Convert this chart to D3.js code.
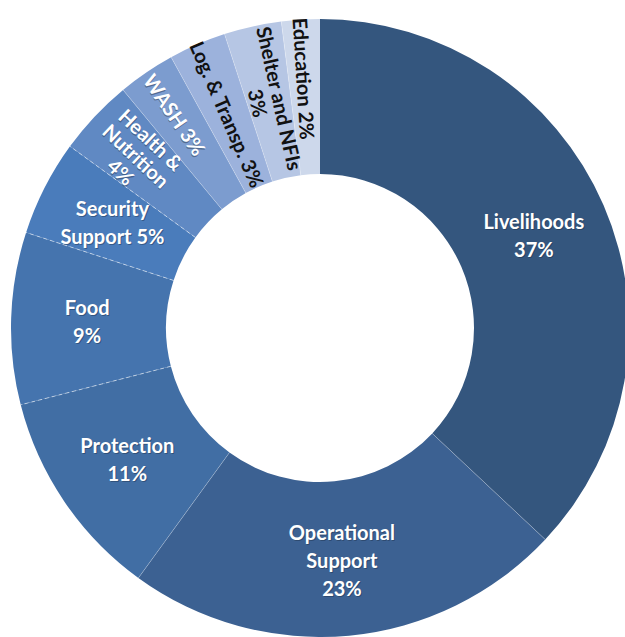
<!DOCTYPE html>
<html>
<head>
<style>
  body {
    margin: 0;
    background-color: #ffffff;
  }

  .label {
    font-family: Lato, "Open Sans", sans-serif;
    font-weight: bold;
    font-size: 20px;
  }
</style>
  <script src="https://d3js.org/d3.v7.min.js"></script>
</head>
<body>
<script>
// donut of budget share by sector
const sectors = ['Livelihoods', 'Operational Support', 'Protection', 'Food', 'Security Support',
  'Health & Nutrition', 'WASH', 'Log. & Transp.', 'Shelter and NFIs', 'Education'];
const shares = [37, 23, 11, 9, 5, 4, 3, 3, 3, 2];
const colors = ['#34567e', '#3c6192', '#416ea4', '#4574ae', '#4a7cbb',
  '#6089c3', '#7c9ccf', '#9cb2dc', '#b6c6e4', '#cdd8eb'];

// label lines as they wrap in the picture
const labelLines = [
  ['Livelihoods', '37%'],
  ['Operational', 'Support', '23%'],
  ['Protection', '11%'],
  ['Food', '9%'],
  ['Security', 'Support 5%'],
  ['Health &', 'Nutrition', '4%'],
  ['WASH 3%'],
  ['Log. & Transp. 3%'],
  ['Shelter and NFIs', '3%'],
  ['Education 2%'],
];

const width = 625;
const height = 637;
const cx = 320;
const cy = 328;
const outerR = 309;
const innerR = 154;

// small slices get radial text, pushed outward a bit for some
const rotated = new Set(['Health & Nutrition', 'WASH', 'Log. & Transp.', 'Shelter and NFIs', 'Education']);
const labelR = {
  'Health & Nutrition': 252,
  'WASH': 258,
  'Education': 250,
};
const dashed = new Set(['Food', 'Security Support', 'Health & Nutrition']);
const darkText = new Set(['Log. & Transp.', 'Shelter and NFIs', 'Education']);

const data = sectors.map((s, i) => ({ name: s, value: shares[i], color: colors[i], lines: labelLines[i] }));

const svg = d3.select('body')
  .append('svg')
  .attr('width', width)
  .attr('height', height);

const pie = d3.pie()
  .sort(null)
  .value(d => d.value);

const arcs = pie(data);

const arc = d3.arc()
  .innerRadius(innerR)
  .outerRadius(outerR);

const g = svg.append('g')
  .attr('transform', `translate(${cx},${cy})`);

g.selectAll('path.slice')
  .data(arcs)
  .join('path')
  .attr('class', 'slice')
  .attr('fill', d => d.data.color)
  .attr('d', arc);

// boundaries between slices
g.selectAll('line.edge')
  .data(arcs.slice(1))
  .join('line')
  .attr('class', 'edge')
  .attr('x1', d => innerR * Math.sin(d.startAngle))
  .attr('y1', d => -innerR * Math.cos(d.startAngle))
  .attr('x2', d => outerR * Math.sin(d.startAngle))
  .attr('y2', d => -outerR * Math.cos(d.startAngle))
  .attr('stroke', '#ffffff')
  .attr('stroke-opacity', d => dashed.has(d.data.name) ? 0.55 : 0.25)
  .attr('stroke-width', 1)
  .attr('stroke-dasharray', d => dashed.has(d.data.name) ? '4,3' : null);

const lineH = 28;

const labels = g.selectAll('g.lbl')
  .data(arcs)
  .join('g')
  .attr('class', 'lbl')
  .attr('transform', d => {
    const mid = (d.startAngle + d.endAngle) / 2;
    const r = labelR[d.data.name] || 233;
    const x = r * Math.sin(mid);
    const y = -r * Math.cos(mid);
    let t = `translate(${x},${y})`;
    if (rotated.has(d.data.name)) {
      t += ` rotate(${mid * 180 / Math.PI - 270})`;
    }
    return t;
  });

labels.each(function (d) {
  const sel = d3.select(this);
  const n = d.data.lines.length;
  const dark = darkText.has(d.data.name);
  d.data.lines.forEach((line, i) => {
    const y = (i - (n - 1) / 2) * (rotated.has(d.data.name) ? 22 : lineH);
    if (!dark) {
      sel.append('text')
        .attr('class', 'label')
        .attr('text-anchor', 'middle')
        .attr('dominant-baseline', 'central')
        .attr('x', 1)
        .attr('y', y + 1)
        .attr('fill', '#1d2f48')
        .attr('fill-opacity', 0.45)
        .text(line);
    }
    sel.append('text')
      .attr('class', 'label')
      .attr('text-anchor', 'middle')
      .attr('dominant-baseline', 'central')
      .attr('y', y)
      .attr('fill', dark ? '#111111' : '#ffffff')
      .text(line);
  });
});
</script>
</body>
</html>
